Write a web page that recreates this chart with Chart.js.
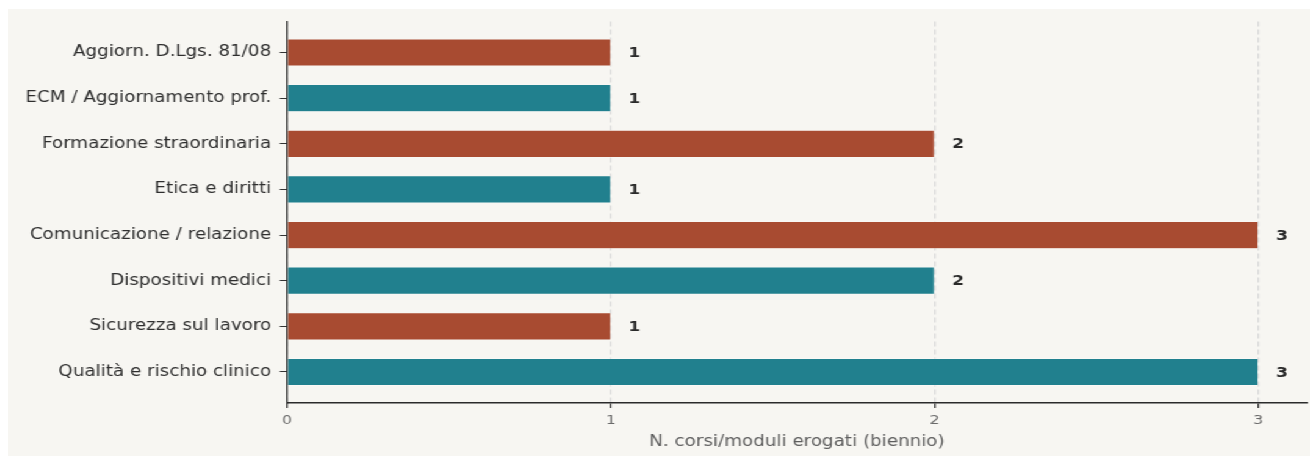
<!DOCTYPE html>
<html>
<head>
<meta charset="utf-8">
<script src="https://cdn.jsdelivr.net/npm/chart.js@4/dist/chart.umd.min.js"></script>
<style>
  body { margin: 0; background: #ffffff; overflow: hidden; }
  /* the reference is horizontally stretched, so draw narrower and scale on x */
  #wrap { position: absolute; left: 8px; top: 9px; width: 1067px; height: 447px; background: #f7f6f2;
          transform: scaleX(1.2202); transform-origin: 0 0; }
</style>
</head>
<body>
<div id="wrap"><canvas id="chart"></canvas></div>
<script>
const categories = [
    "Aggiorn. D.Lgs. 81/08",
    "ECM / Aggiornamento prof.",
    "Formazione straordinaria",
    "Etica e diritti",
    "Comunicazione / relazione",
    "Dispositivi medici",
    "Sicurezza sul lavoro",
    "Qualità e rischio clinico"
];
const courseCounts = [1, 1, 2, 1, 3, 2, 1, 3];
const xTicks = [0, 1, 2, 3];

const RED = "#a84b31";
const TEAL = "#21808e";
const barColors = categories.map((_, i) => (i % 2 === 0 ? RED : TEAL));
const FONT = "'DejaVu Sans', sans-serif";

// value labels to the right of each bar
const valueLabels = {
    id: "valueLabels",
    afterDatasetsDraw(chart) {
        const ctx = chart.ctx;
        const meta = chart.getDatasetMeta(0);
        ctx.save();
        ctx.font = "bold 14px " + FONT;
        ctx.fillStyle = "#2a2a2a";
        ctx.textAlign = "left";
        ctx.textBaseline = "middle";
        meta.data.forEach((bar, i) => {
            ctx.fillText(String(courseCounts[i]), bar.x + 14.5, bar.y + 1);
        });
        ctx.restore();
    }
};

new Chart(document.getElementById("chart"), {
    type: "bar",
    data: {
        datasets: [{
            data: courseCounts.map((v, i) => ({ x: v, y: i })),
            backgroundColor: barColors,
            borderColor: "rgba(255,255,255,0.6)",
            borderWidth: 0.6,
            barPercentage: 0.6,
            categoryPercentage: 1.0
        }]
    },
    options: {
        indexAxis: "y",
        responsive: true,
        maintainAspectRatio: false,
        animation: false,
        layout: { padding: { top: 12.5, right: 2.5, left: 0, bottom: 0 } },
        plugins: { legend: { display: false }, tooltip: { enabled: false } },
        scales: {
            x: {
                type: "linear",
                min: 0,
                max: 3.15,
                afterBuildTicks: (s) => { s.ticks = xTicks.map(v => ({ value: v })); },
                afterFit: (s) => { s.height = 53; s.paddingLeft = 0; s.paddingRight = 0; },
                grid: {
                    color: "#d9d9d9",
                    lineWidth: 1.3,
                    tickColor: "#333333",
                    tickLength: 5,
                    tickBorderDash: []
                },
                border: { display: true, color: "#2b2b2b", width: 1.4, dash: [5, 3] },
                ticks: {
                    color: "#6b6b6b",
                    font: { family: FONT, size: 13 },
                    padding: 5
                },
                title: {
                    display: true,
                    text: "N. corsi/moduli erogati (biennio)",
                    color: "#5e5e5e",
                    font: { family: FONT, size: 15 },
                    padding: { top: 2, bottom: 5 }
                }
            },
            y: {
                type: "linear",
                offset: false,
                min: -0.68,
                max: 7.68,
                reverse: true,
                afterBuildTicks: (s) => { s.ticks = categories.map((_, i) => ({ value: i })); },
                afterFit: (s) => { s.width = 228.7; s.paddingTop = 0; s.paddingBottom = 0; },
                grid: {
                    offset: false,
                    drawOnChartArea: false,
                    tickColor: "#333333",
                    tickLength: 6
                },
                border: { display: true, color: "#2b2b2b", width: 1.3 },
                ticks: {
                    color: "#2e2e2e",
                    font: { family: FONT, size: 15 },
                    padding: 7,
                    callback: (v) => categories[v]
                }
            }
        }
    },
    plugins: [valueLabels]
});
</script>
</body>
</html>
